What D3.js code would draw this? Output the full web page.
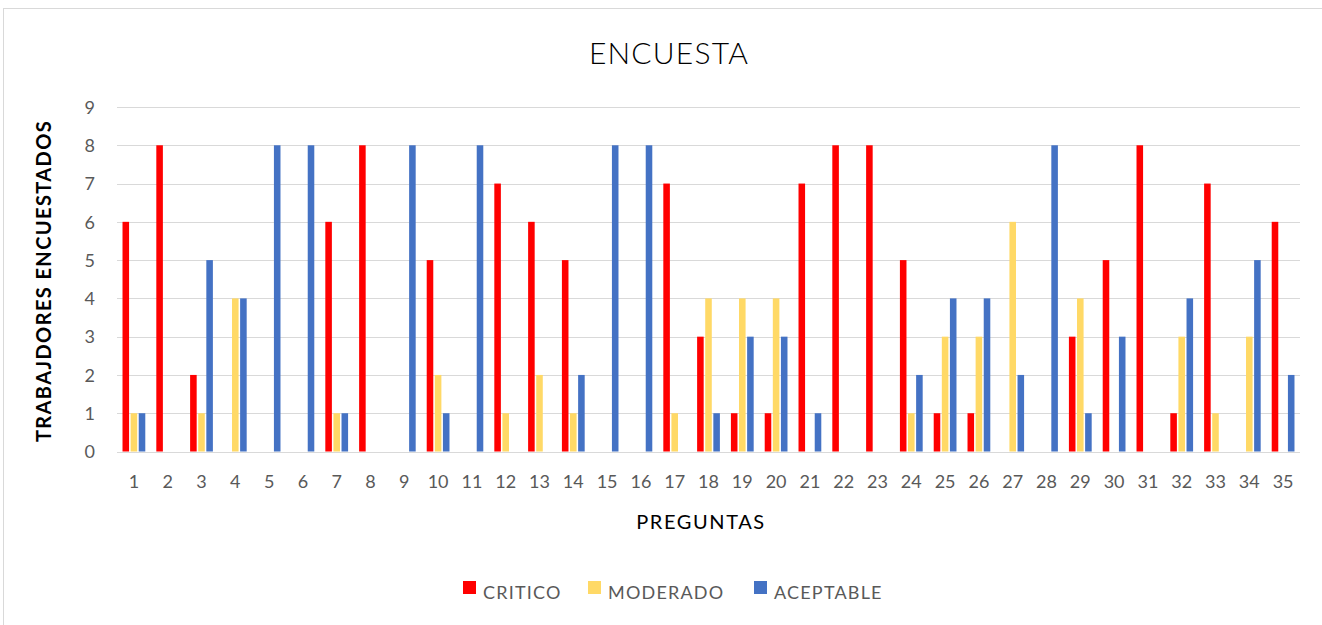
<!DOCTYPE html>
<meta charset="utf-8">
<head>
    <style type="text/css">
        body { margin: 0; background: #fff; }
        .grid line { stroke: #d9d9d9; stroke-width: 1; }
        .axis text { font-family: Lato, "Open Sans", sans-serif; font-size: 18px; fill: #595959; }
        .legend text { font-family: Lato, "Open Sans", sans-serif; font-size: 18px; fill: #595959; letter-spacing: 1.2px; }
    </style>
</head>
<body>
<script src="https://cdn.jsdelivr.net/npm/d3@7"></script>
<script>
    // questions 1..35
    var preguntas = d3.range(1, 36).map(String);
    var series = ["CRITICO", "MODERADO", "ACEPTABLE"];
    var colors = ["#ff0000", "#ffd966", "#4472c4"];
    var yTicks = [0, 1, 2, 3, 4, 5, 6, 7, 8, 9];

    var critico   = [6, 8, 2, 0, 0, 0, 6, 8, 0, 5, 0, 7, 6, 5, 0, 0, 7, 3, 1, 1, 7, 8, 8, 5, 1, 1, 0, 0, 3, 5, 8, 1, 7, 0, 6];
    var moderado  = [1, 0, 1, 4, 0, 0, 1, 0, 0, 2, 0, 1, 2, 1, 0, 0, 1, 4, 4, 4, 0, 0, 0, 1, 3, 3, 6, 0, 4, 0, 0, 3, 1, 3, 0];
    var aceptable = [1, 0, 5, 4, 8, 8, 1, 0, 8, 1, 8, 0, 0, 2, 8, 8, 0, 1, 3, 3, 1, 0, 0, 2, 4, 4, 2, 8, 1, 3, 0, 4, 0, 5, 2];

    var values = [critico, moderado, aceptable];

    var W = 1322, H = 625;
    var plot = { left: 117, right: 1300, top: 107, bottom: 451.5 };

    var svg = d3.select("body").append("svg")
        .attr("width", W)
        .attr("height", H);

    // chart frame
    svg.append("rect")
        .attr("x", 3.5).attr("y", 8.5)
        .attr("width", 1340).attr("height", 700)
        .attr("fill", "#fff")
        .attr("stroke", "#d9d9d9");

    var x0 = d3.scaleBand()
        .domain(preguntas)
        .range([plot.left, plot.right]);

    var x1 = d3.scaleBand()
        .domain(series)
        .range([0, x0.bandwidth()])
        .paddingInner(0.19)
        .paddingOuter(0.68);

    var y = d3.scaleLinear()
        .domain([0, 9])
        .range([plot.bottom, plot.top]);

    // gridlines
    svg.append("g").attr("class", "grid")
        .selectAll("line")
        .data(yTicks)
        .enter().append("line")
        .attr("x1", plot.left).attr("x2", plot.right)
        .attr("y1", function (d) { return Math.round(y(d)) + 0.5; })
        .attr("y2", function (d) { return Math.round(y(d)) + 0.5; });

    // bars
    var groups = svg.append("g").selectAll("g")
        .data(series)
        .enter().append("g")
        .attr("fill", function (d, i) { return colors[i]; });

    groups.selectAll("rect")
        .data(function (s, i) {
            return values[i].map(function (v, j) { return { s: s, q: preguntas[j], v: v }; });
        })
        .enter().append("rect")
        .attr("x", function (d) { return x0(d.q) + x1(d.s); })
        .attr("width", x1.bandwidth())
        .attr("y", function (d) { return y(d.v); })
        .attr("height", function (d) { return y(0) - y(d.v); });

    // y axis
    var yAxis = svg.append("g").attr("class", "axis")
        .attr("transform", "translate(" + (plot.left - 22) + ",0)")
        .call(d3.axisLeft(y).tickValues(yTicks).tickSize(0).tickPadding(0));
    yAxis.select(".domain").remove();
    yAxis.selectAll("text").attr("dy", "0.35em");

    // x axis
    var xAxis = svg.append("g").attr("class", "axis")
        .attr("transform", "translate(0," + plot.bottom + ")")
        .call(d3.axisBottom(x0).tickSize(0).tickPadding(24));
    xAxis.select(".domain").remove();

    // titles
    svg.append("text")
        .attr("x", 669).attr("y", 64)
        .attr("text-anchor", "middle")
        .style("font-family", "Lato, sans-serif")
        .style("font-size", "30px")
        .style("font-weight", 300)
        .style("letter-spacing", "1.2px")
        .attr("fill", "#000")
        .text("ENCUESTA");

    svg.append("text")
        .attr("x", 701).attr("y", 529)
        .attr("text-anchor", "middle")
        .style("font-family", "Lato, sans-serif")
        .style("font-size", "20px")
        .style("letter-spacing", "1.6px")
        .attr("fill", "#000")
        .text("PREGUNTAS");

    svg.append("text")
        .attr("transform", "translate(51,281) rotate(-90)")
        .attr("text-anchor", "middle")
        .style("font-family", "Lato, sans-serif")
        .style("font-size", "20px")
        .style("font-weight", "bold")
        .style("letter-spacing", "1.4px")
        .attr("fill", "#000")
        .text("TRABAJDORES ENCUESTADOS");

    // legend
    var legendX = [463, 588, 754];
    var legend = svg.append("g").attr("class", "legend")
        .selectAll("g")
        .data(series)
        .enter().append("g")
        .attr("transform", function (d, i) { return "translate(" + legendX[i] + ",581)"; });
    legend.append("rect")
        .attr("width", 13).attr("height", 13)
        .attr("fill", function (d, i) { return colors[i]; });
    legend.append("text")
        .attr("x", 20).attr("y", 18)
        .text(function (d) { return d; });
</script>
</body>
